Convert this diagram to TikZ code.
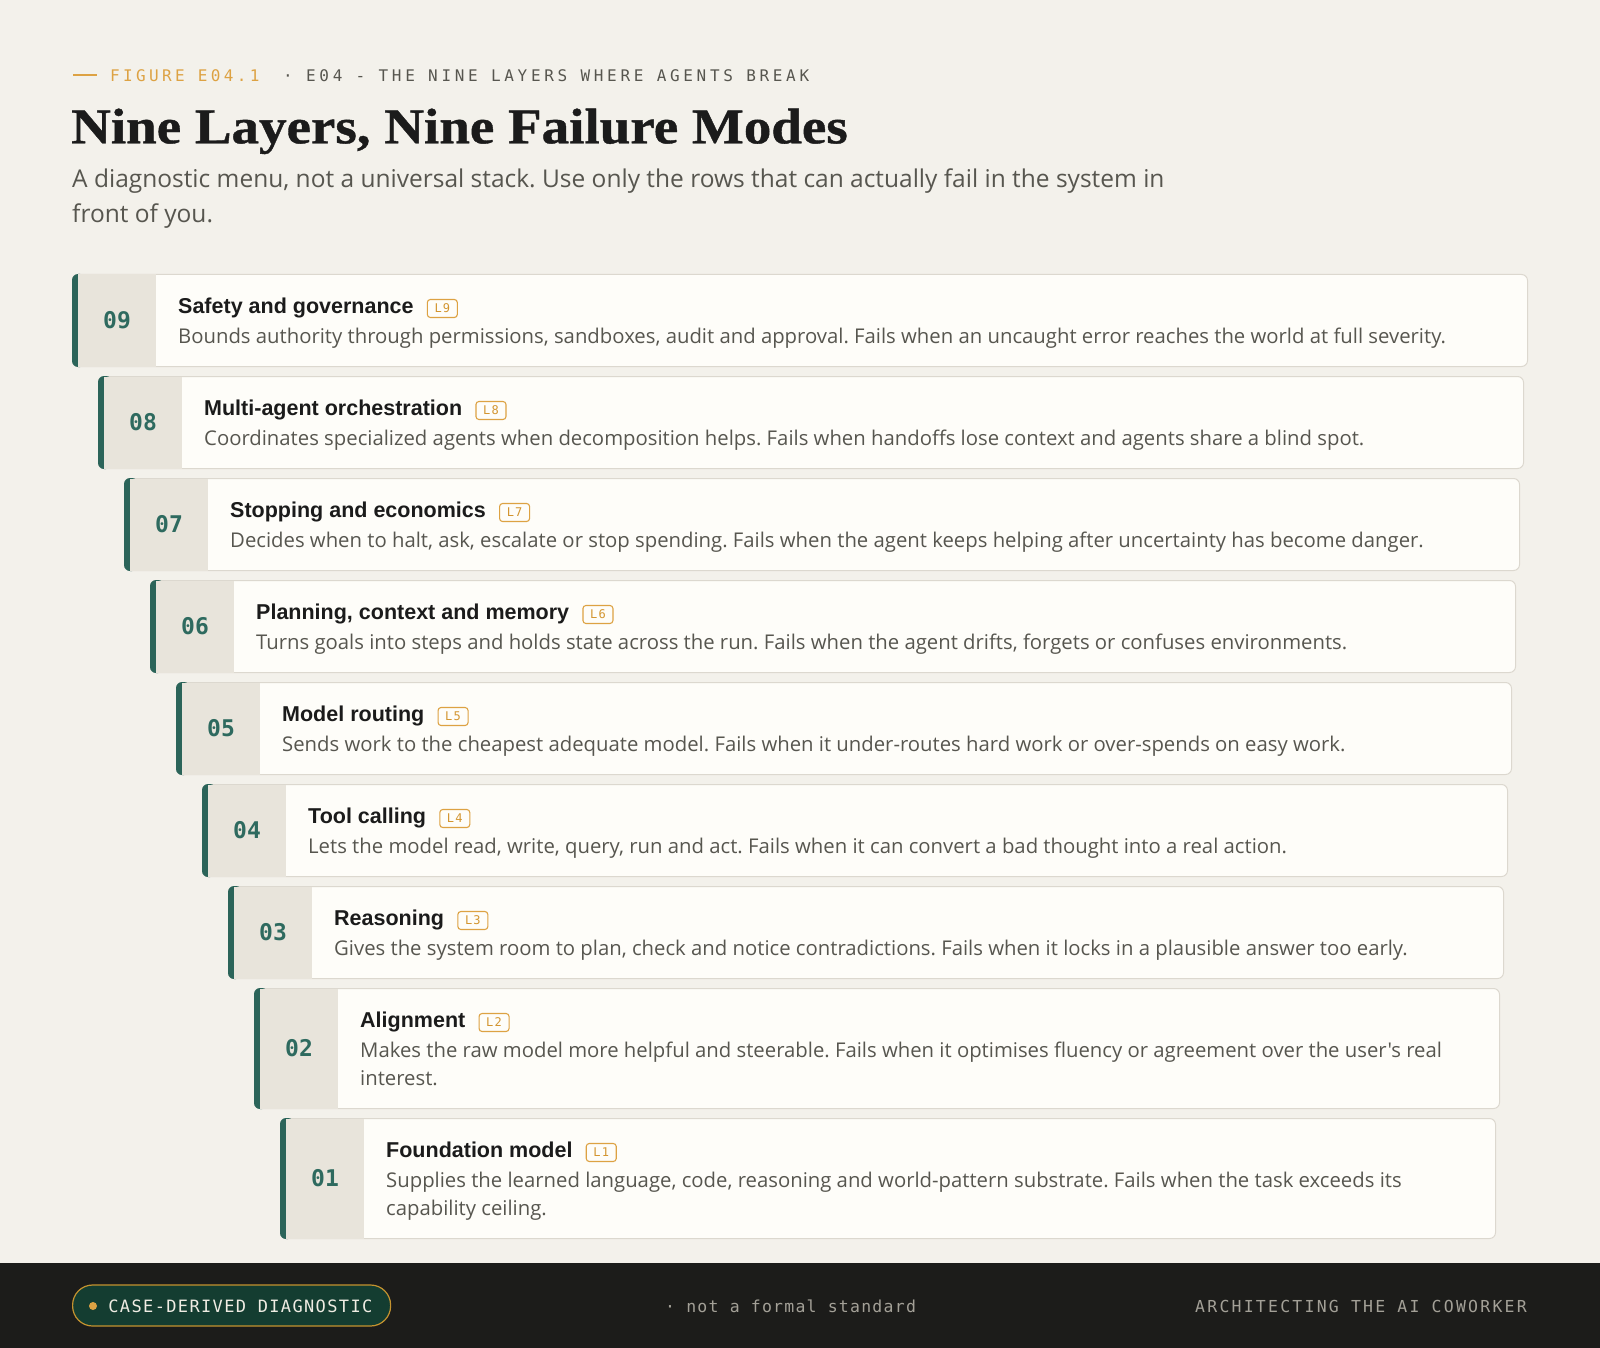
\documentclass[tikz,border=0pt]{standalone}
\usepackage{fontspec}
\setmainfont{Liberation Sans}
\newfontfamily\bodyfont{Open Sans}
\newfontfamily\monofont{DejaVu Sans Mono}
\newfontfamily\headserif{Liberation Serif}[FakeStretch=1.1, FakeBold=0.8]
\usetikzlibrary{positioning}
\frenchspacing

\definecolor{paper}{HTML}{F3F1EB}
\definecolor{cardfill}{HTML}{FEFDF9}
\definecolor{cardline}{HTML}{DCD8CF}
\definecolor{numcol}{HTML}{E8E4DB}
\definecolor{barteal}{HTML}{2B6459}
\definecolor{numteal}{HTML}{2E6A5F}
\definecolor{ink}{HTML}{1B1B1B}
\definecolor{slate}{HTML}{57564F}
\definecolor{amber}{HTML}{DDA243}
\definecolor{tagtext}{HTML}{D39530}
\definecolor{footbg}{HTML}{1C1C1A}
\definecolor{pillfill}{HTML}{143D31}
\definecolor{pillline}{HTML}{C4922F}
\definecolor{pilltext}{HTML}{EFECE3}
\definecolor{footgray}{HTML}{A3A097}

\begin{document}
\begin{tikzpicture}[x=1pt, y=-1pt,
  card/.style={draw=cardline, fill=cardfill, rounded corners=6pt, line width=1pt, anchor=north west, inner sep=0pt},
  num/.style={text=numteal, font=\monofont\bfseries\fontsize{23}{23}\selectfont},
  ttl/.style={anchor=base west, inner sep=0pt, text=ink, font=\bfseries\fontsize{21.5}{24}\selectfont},
  tag/.style={anchor=west, draw=amber, fill=cardfill, rounded corners=3pt, line width=1.1pt, minimum width=30pt, minimum height=18pt, inner sep=0pt, text=tagtext, font=\monofont\fontsize{12}{12}\selectfont\addfontfeature{LetterSpace=10}},
  dsc/.style={anchor=base west, inner sep=0pt, text=slate, font=\bodyfont\fontsize{20.3}{28}\selectfont},
  pill/.style={draw=pillline, fill=pillfill, line width=1.2pt, rounded corners=20pt, inner sep=0pt}]

\useasboundingbox (0,0) rectangle (1600,1348);
\fill[paper] (0,0) rectangle (1600,1348);

\draw[amber, line width=2pt] (73,75) -- (97,75);
\node[anchor=base west, inner sep=0pt, text=amber, font=\monofont\fontsize{16}{16}\selectfont\addfontfeature{LetterSpace=21}] (fig) at (110,81.7) {FIGURE E04.1};
\node[anchor=base west, inner sep=0pt, text=slate, font=\monofont\fontsize{16}{16}\selectfont\addfontfeature{LetterSpace=23}] (kicker) at (283,81.7) {· E04 - THE NINE LAYERS WHERE AGENTS BREAK};
\node[anchor=base west, inner sep=0pt, text=ink, font=\headserif\bfseries\fontsize{50}{56}\selectfont] (head) at (71,143.3) {Nine Layers, Nine Failure Modes};
\node[anchor=base west, inner sep=0pt, text=slate, font=\bodyfont\fontsize{24.5}{35}\selectfont] (sub) at (72,187.5) {\parbox[t]{1250pt}{\raggedright A diagnostic menu, not a universal stack. Use only the rows that can actually fail in the system in\\front of you.}};

\node[card, minimum width=1455pt, minimum height=92pt] (c9) at (72,274) {};
\fill[barteal, rounded corners=6pt] (c9.north west) rectangle ([xshift=14pt]c9.south west);
\fill[numcol] ([shift={(6pt,-0.5pt)}]c9.north west) rectangle ([shift={(84pt,0.5pt)}]c9.south west);
\node[num] (n9) at ([xshift=45pt]c9.west) {09};
\node[ttl] (t9) at ([shift={(106pt,-39pt)}]c9.north west) {Safety and governance};
\node[tag, right=13pt of t9.base east, yshift=4.5pt] (b9) {L9};
\node[dsc] (d9) at ([shift={(106pt,-69pt)}]c9.north west) {Bounds authority through permissions, sandboxes, audit and approval. Fails when an uncaught error reaches the world at full severity.};

\node[card, minimum width=1425pt, minimum height=92pt] (c8) at (98,376) {};
\fill[barteal, rounded corners=6pt] (c8.north west) rectangle ([xshift=14pt]c8.south west);
\fill[numcol] ([shift={(6pt,-0.5pt)}]c8.north west) rectangle ([shift={(84pt,0.5pt)}]c8.south west);
\node[num] (n8) at ([xshift=45pt]c8.west) {08};
\node[ttl] (t8) at ([shift={(106pt,-39pt)}]c8.north west) {Multi-agent orchestration};
\node[tag, right=13pt of t8.base east, yshift=4.5pt] (b8) {L8};
\node[dsc] (d8) at ([shift={(106pt,-69pt)}]c8.north west) {Coordinates specialized agents when decomposition helps. Fails when handoffs lose context and agents share a blind spot.};

\node[card, minimum width=1395pt, minimum height=92pt] (c7) at (124,478) {};
\fill[barteal, rounded corners=6pt] (c7.north west) rectangle ([xshift=14pt]c7.south west);
\fill[numcol] ([shift={(6pt,-0.5pt)}]c7.north west) rectangle ([shift={(84pt,0.5pt)}]c7.south west);
\node[num] (n7) at ([xshift=45pt]c7.west) {07};
\node[ttl] (t7) at ([shift={(106pt,-39pt)}]c7.north west) {Stopping and economics};
\node[tag, right=13pt of t7.base east, yshift=4.5pt] (b7) {L7};
\node[dsc] (d7) at ([shift={(106pt,-69pt)}]c7.north west) {Decides when to halt, ask, escalate or stop spending. Fails when the agent keeps helping after uncertainty has become danger.};

\node[card, minimum width=1365pt, minimum height=92pt] (c6) at (150,580) {};
\fill[barteal, rounded corners=6pt] (c6.north west) rectangle ([xshift=14pt]c6.south west);
\fill[numcol] ([shift={(6pt,-0.5pt)}]c6.north west) rectangle ([shift={(84pt,0.5pt)}]c6.south west);
\node[num] (n6) at ([xshift=45pt]c6.west) {06};
\node[ttl] (t6) at ([shift={(106pt,-39pt)}]c6.north west) {Planning, context and memory};
\node[tag, right=13pt of t6.base east, yshift=4.5pt] (b6) {L6};
\node[dsc] (d6) at ([shift={(106pt,-69pt)}]c6.north west) {Turns goals into steps and holds state across the run. Fails when the agent drifts, forgets or confuses environments.};

\node[card, minimum width=1335pt, minimum height=92pt] (c5) at (176,682) {};
\fill[barteal, rounded corners=6pt] (c5.north west) rectangle ([xshift=14pt]c5.south west);
\fill[numcol] ([shift={(6pt,-0.5pt)}]c5.north west) rectangle ([shift={(84pt,0.5pt)}]c5.south west);
\node[num] (n5) at ([xshift=45pt]c5.west) {05};
\node[ttl] (t5) at ([shift={(106pt,-39pt)}]c5.north west) {Model routing};
\node[tag, right=13pt of t5.base east, yshift=4.5pt] (b5) {L5};
\node[dsc] (d5) at ([shift={(106pt,-69pt)}]c5.north west) {Sends work to the cheapest adequate model. Fails when it under-routes hard work or over-spends on easy work.};

\node[card, minimum width=1305pt, minimum height=92pt] (c4) at (202,784) {};
\fill[barteal, rounded corners=6pt] (c4.north west) rectangle ([xshift=14pt]c4.south west);
\fill[numcol] ([shift={(6pt,-0.5pt)}]c4.north west) rectangle ([shift={(84pt,0.5pt)}]c4.south west);
\node[num] (n4) at ([xshift=45pt]c4.west) {04};
\node[ttl] (t4) at ([shift={(106pt,-39pt)}]c4.north west) {Tool calling};
\node[tag, right=13pt of t4.base east, yshift=4.5pt] (b4) {L4};
\node[dsc] (d4) at ([shift={(106pt,-69pt)}]c4.north west) {Lets the model read, write, query, run and act. Fails when it can convert a bad thought into a real action.};

\node[card, minimum width=1275pt, minimum height=92pt] (c3) at (228,886) {};
\fill[barteal, rounded corners=6pt] (c3.north west) rectangle ([xshift=14pt]c3.south west);
\fill[numcol] ([shift={(6pt,-0.5pt)}]c3.north west) rectangle ([shift={(84pt,0.5pt)}]c3.south west);
\node[num] (n3) at ([xshift=45pt]c3.west) {03};
\node[ttl] (t3) at ([shift={(106pt,-39pt)}]c3.north west) {Reasoning};
\node[tag, right=13pt of t3.base east, yshift=4.5pt] (b3) {L3};
\node[dsc] (d3) at ([shift={(106pt,-69pt)}]c3.north west) {Gives the system room to plan, check and notice contradictions. Fails when it locks in a plausible answer too early.};

\node[card, minimum width=1245pt, minimum height=120pt] (c2) at (254,988) {};
\fill[barteal, rounded corners=6pt] (c2.north west) rectangle ([xshift=14pt]c2.south west);
\fill[numcol] ([shift={(6pt,-0.5pt)}]c2.north west) rectangle ([shift={(84pt,0.5pt)}]c2.south west);
\node[num] (n2) at ([xshift=45pt]c2.west) {02};
\node[ttl] (t2) at ([shift={(106pt,-39pt)}]c2.north west) {Alignment};
\node[tag, right=13pt of t2.base east, yshift=4.5pt] (b2) {L2};
\node[dsc] (d2) at ([shift={(106pt,-69pt)}]c2.north west) {\parbox[t]{1120pt}{\raggedright Makes the raw model more helpful and steerable. Fails when it optimises fluency or agreement over the user's real\\interest.}};

\node[card, minimum width=1215pt, minimum height=120pt] (c1) at (280,1118) {};
\fill[barteal, rounded corners=6pt] (c1.north west) rectangle ([xshift=14pt]c1.south west);
\fill[numcol] ([shift={(6pt,-0.5pt)}]c1.north west) rectangle ([shift={(84pt,0.5pt)}]c1.south west);
\node[num] (n1) at ([xshift=45pt]c1.west) {01};
\node[ttl] (t1) at ([shift={(106pt,-39pt)}]c1.north west) {Foundation model};
\node[tag, right=13pt of t1.base east, yshift=4.5pt] (b1) {L1};
\node[dsc] (d1) at ([shift={(106pt,-69pt)}]c1.north west) {\parbox[t]{1100pt}{\raggedright Supplies the learned language, code, reasoning and world-pattern substrate. Fails when the task exceeds its\\capability ceiling.}};

\fill[footbg] (0,1263) rectangle (1600,1348);
\node[pill, minimum width=318pt, minimum height=41pt, anchor=west] (pill) at (72,1305.5) {};
\node[circle, fill=amber, minimum size=8pt, inner sep=0pt] (dot) at (93,1306) {};
\node[right=11pt of dot, inner sep=0pt, text=pilltext, font=\monofont\fontsize{17}{17}\selectfont\addfontfeature{LetterSpace=8}] (case) {CASE-DERIVED DIAGNOSTIC};
\node[anchor=base west, inner sep=0pt, text=footgray, font=\monofont\fontsize{16.5}{16.5}\selectfont\addfontfeature{LetterSpace=7.5}] (note) at (665,1312) {· not a formal standard};
\node[anchor=base east, inner sep=0pt, text=footgray, font=\monofont\fontsize{16.5}{16.5}\selectfont\addfontfeature{LetterSpace=13.5}] (book) at (1527,1312) {ARCHITECTING THE AI COWORKER};

\end{tikzpicture}
\end{document}
